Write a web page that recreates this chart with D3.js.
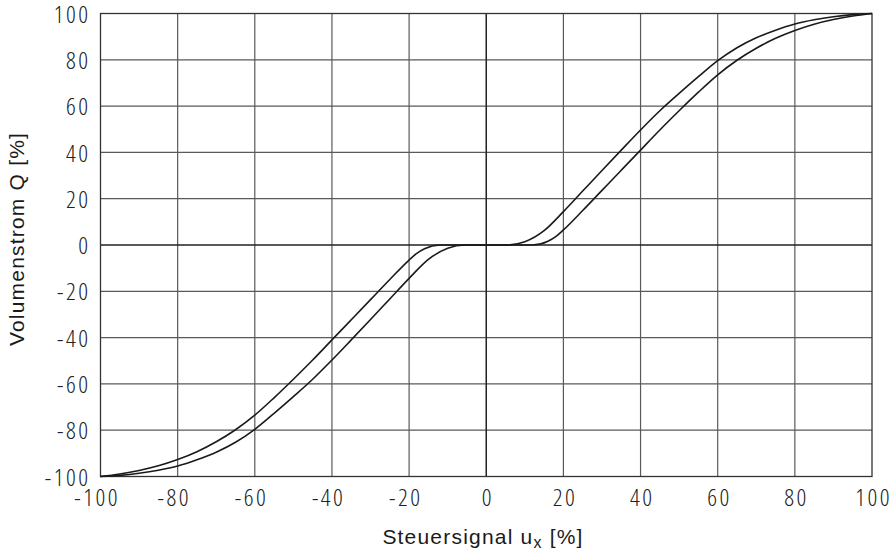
<!DOCTYPE html>
<html>
<head>
<meta charset="utf-8">
<script src="https://cdn.jsdelivr.net/npm/d3@7"></script>
<style>
  html, body { margin: 0; padding: 0; background: #fff; }
  svg { display: block; }
  .tick-label { font-family: "Open Sans", Roboto, sans-serif; font-weight: 300; font-stretch: 82%; font-size: 24px; fill: #222; letter-spacing: 2.5px; }
  .axis-title { font-family: "Liberation Sans", Arial, sans-serif; font-size: 21px; fill: #1a1a1a; letter-spacing: 1.2px; }
</style>
</head>
<body>
<svg id="chart" width="893" height="557"></svg>
<script>
// ---- data ----
const xTickValues = [-100, -80, -60, -40, -20, 0, 20, 40, 60, 80, 100];
const xTickLabels = ["-100", "-80", "-60", "-40", "-20", "0", "20", "40", "60", "80", "100"];
const yTickValues = [-100, -80, -60, -40, -20, 0, 20, 40, 60, 80, 100];
const yTickLabels = ["-100", "-80", "-60", "-40", "-20", "0", "20", "40", "60", "80", "100"];

// left-shifted (upper) curve
const curveLeftU = [-100, -95, -90, -85, -80, -75, -70, -65, -60, -55, -50, -45, -40, -35, -30, -25, -20, -18, -16, -12, 5.5, 10, 15, 20, 25, 30, 35, 40, 45, 50, 55, 60, 65, 70, 75, 80, 85, 90, 95, 100];
const curveLeftQ = [-100, -98.9, -97.4, -95.4, -92.7, -89.3, -85, -79.8, -73.5, -66, -58, -49.7, -41, -32.3, -23.6, -14.9, -6.5, -3.6, -1.6, 0, 0, 1.4, 6.2, 14.4, 23.3, 32.2, 41, 49.7, 58, 65.5, 72.7, 79.6, 85.2, 89.5, 92.8, 95.5, 97.3, 98.6, 99.5, 100];
// right-shifted (lower) curve
const curveRightU = [-100, -95, -90, -85, -80, -75, -70, -65, -60, -55, -50, -45, -40, -35, -30, -25, -20, -15, -10, -5.5, 12, 16, 18, 20, 25, 30, 35, 40, 45, 50, 55, 60, 65, 70, 75, 80, 85, 90, 95, 100];
const curveRightQ = [-100, -99.5, -98.6, -97.3, -95.5, -92.8, -89.5, -85.2, -79.6, -72.7, -65.5, -58, -49.7, -41, -32.2, -23.3, -14.4, -6.2, -1.4, 0, 0, 1.6, 3.6, 6.5, 14.9, 23.6, 32.3, 41, 49.7, 58, 66, 73.5, 79.8, 85, 89.3, 92.7, 95.4, 97.4, 98.9, 100];

const xTitle = "Steuersignal u";
const xTitleSub = "x";
const xTitleEnd = " [%]";
const yTitle = "Volumenstrom Q [%]";

// ---- layout ----
const W = 893, H = 557;
const margin = { left: 100.5, right: 21, top: 13.5, bottom: 80.5 };
const svg = d3.select("#chart");

const x = d3.scaleLinear().domain([-100, 100]).range([margin.left, W - margin.right]);
const y = d3.scaleLinear().domain([-100, 100]).range([H - margin.bottom, margin.top]);

// grid lines
const grid = svg.append("g");
grid.selectAll("line.vx").data(xTickValues.filter(d => d !== 0 && Math.abs(d) !== 100)).join("line")
  .attr("x1", d => x(d)).attr("x2", d => x(d))
  .attr("y1", y(-100)).attr("y2", y(100))
  .attr("stroke", "#5a5a5a").attr("stroke-width", 1.2);
grid.selectAll("line.hy").data(yTickValues.filter(d => d !== 0 && Math.abs(d) !== 100)).join("line")
  .attr("x1", x(-100)).attr("x2", x(100))
  .attr("y1", d => y(d)).attr("y2", d => y(d))
  .attr("stroke", "#5a5a5a").attr("stroke-width", 1.2);

// zero lines
svg.append("line").attr("x1", x(0)).attr("x2", x(0)).attr("y1", y(-100)).attr("y2", y(100))
  .attr("stroke", "#222").attr("stroke-width", 1.5);
svg.append("line").attr("x1", x(-100)).attr("x2", x(100)).attr("y1", y(0)).attr("y2", y(0))
  .attr("stroke", "#222").attr("stroke-width", 1.5);

// frame
svg.append("rect")
  .attr("x", x(-100)).attr("y", y(100))
  .attr("width", x(100) - x(-100)).attr("height", y(-100) - y(100))
  .attr("fill", "none").attr("stroke", "#333").attr("stroke-width", 1.3);

// axes (labels only)
const xAxis = d3.axisBottom(x).tickValues(xTickValues).tickFormat((d, i) => xTickLabels[i]).tickSize(0).tickPadding(0);
const gx = svg.append("g").attr("transform", `translate(0,${y(-100)})`).call(xAxis);
gx.select(".domain").remove();
gx.selectAll("text").attr("class", "tick-label").attr("font-size", null).attr("font-family", null)
  .attr("fill", null)
  .attr("y", 29).attr("dy", 0)
  .attr("x", (d, i) => (xTickLabels[i].startsWith("-") ? -5 : 0) + 1.2);

const yAxis = d3.axisLeft(y).tickValues(yTickValues).tickFormat((d, i) => yTickLabels[i]).tickSize(0).tickPadding(0);
const gy = svg.append("g").attr("transform", `translate(${x(-100)},0)`).call(yAxis);
gy.select(".domain").remove();
gy.selectAll("text").attr("class", "tick-label").attr("font-size", null).attr("font-family", null)
  .attr("fill", null)
  .attr("x", -10).attr("dy", "0.36em");

// curves
const line = d3.line().x(d => x(d[0])).y(d => y(d[1])).curve(d3.curveMonotoneX);
const leftPts = curveLeftU.map((u, i) => [u, curveLeftQ[i]]);
const rightPts = curveRightU.map((u, i) => [u, curveRightQ[i]]);
svg.append("path").datum(leftPts).attr("d", line)
  .attr("fill", "none").attr("stroke", "#1a1a1a").attr("stroke-width", 1.6);
svg.append("path").datum(rightPts).attr("d", line)
  .attr("fill", "none").attr("stroke", "#1a1a1a").attr("stroke-width", 1.6);

// axis titles
const xt = svg.append("text").attr("class", "axis-title")
  .attr("x", 483).attr("y", 544).attr("text-anchor", "middle");
xt.append("tspan").text(xTitle);
xt.append("tspan").attr("dy", 4).attr("font-size", 16).text(xTitleSub);
xt.append("tspan").attr("dy", -4).text(xTitleEnd);

svg.append("text").attr("class", "axis-title")
  .attr("transform", `translate(24,239) rotate(-90)`)
  .attr("text-anchor", "middle")
  .text(yTitle);
</script>
</body>
</html>
